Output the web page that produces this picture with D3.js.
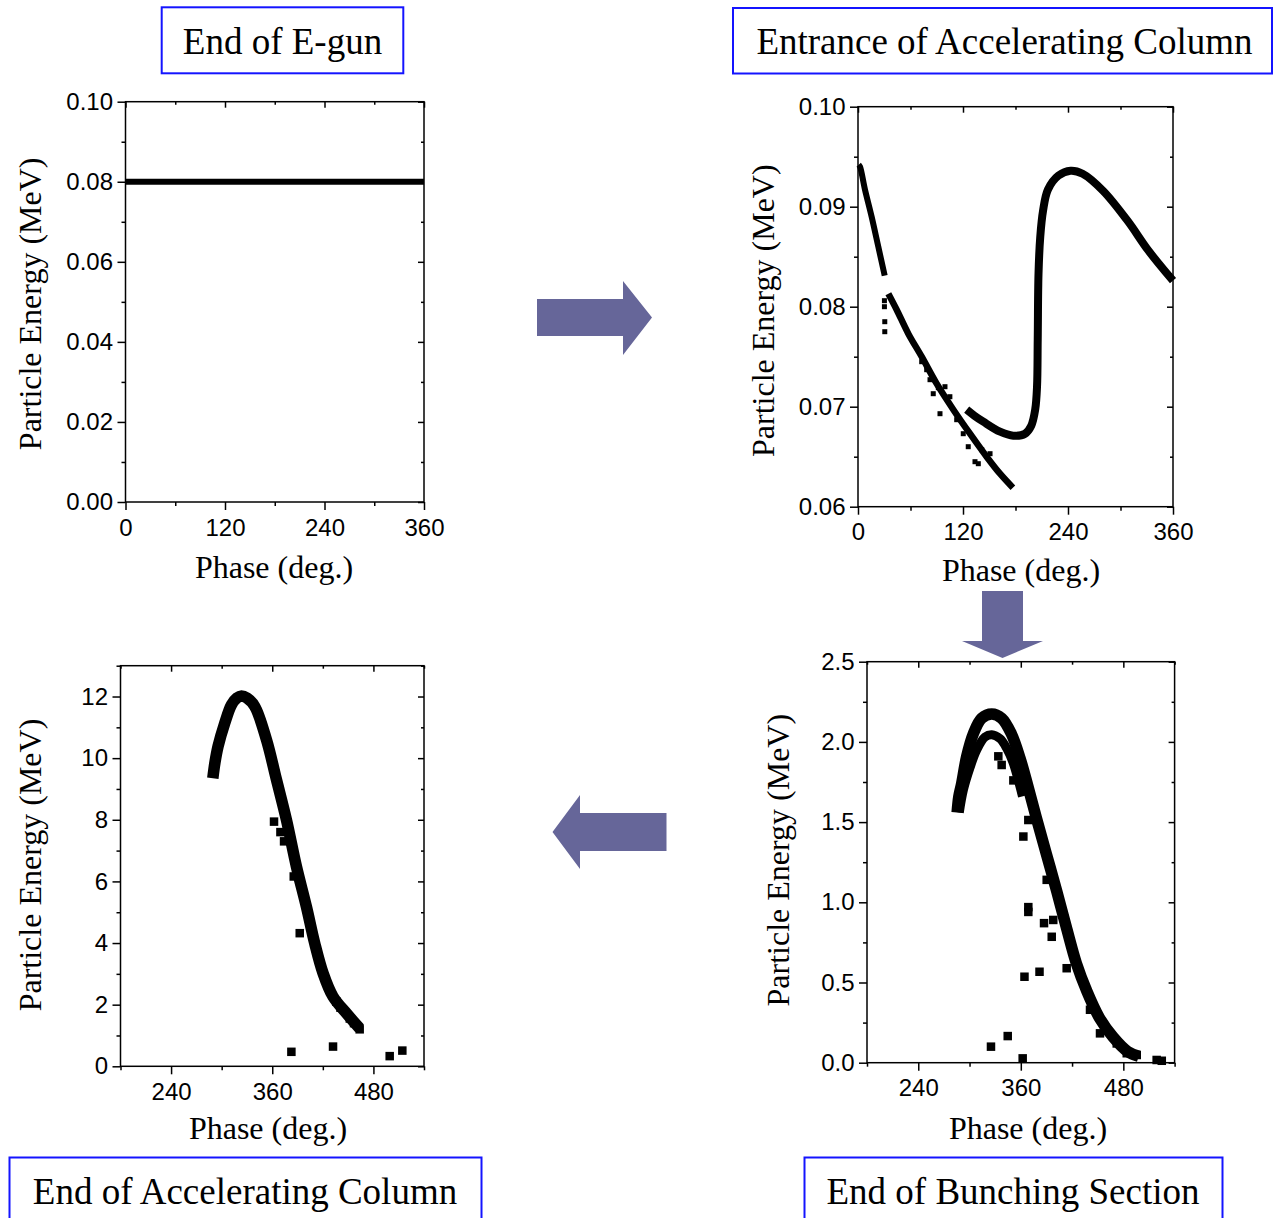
<!DOCTYPE html>
<html>
<head>
<meta charset="utf-8">
<script src="https://cdn.jsdelivr.net/npm/d3@7"></script>
<style>
  html, body { margin: 0; padding: 0; background: #fff; }
  svg { display: block; }
</style>
</head>
<body>
<svg id="fig" width="1274" height="1218"></svg>
<script>
// ---------- Longitudinal phase space of the bunch at four stations ----------
// Each pair is [phase (deg.), particle energy (MeV)].

// Station 1: end of the electron gun (mono-energetic, uniform in phase)
const egunBeam = [[0, 0.08], [360, 0.08]];

// Station 2: entrance of the accelerating column
const entranceHeadBand = [[0.8, 0.0942], [2.3, 0.0940], [8, 0.0917], [15.6, 0.0890], [23.2, 0.0860], [30.5, 0.0831]];
const entranceBodyBand = [[34.7, 0.0813], [44.2, 0.0797], [57.5, 0.0773], [72.8, 0.0750], [89.9, 0.0723],
  [109, 0.0697], [128, 0.0673], [147, 0.0650], [162.3, 0.0633], [177, 0.0619]];
const entranceTailCurve = [[124.2, 0.0697], [133, 0.0691], [143.2, 0.0685], [162.3, 0.0675], [177.5, 0.0671],
  [190.9, 0.0673], [198, 0.0681], [202.5, 0.0697], [204.6, 0.0720], [205.4, 0.0767], [206.3, 0.0833],
  [208.3, 0.0870], [211.5, 0.0896], [217, 0.0917], [229, 0.0931], [243, 0.0936], [256.7, 0.0933],
  [280, 0.0916], [308, 0.0886], [332, 0.0856], [360, 0.0826]];
const entranceStray = [[30.2, 0.0806], [30.2, 0.0800], [30.6, 0.0785], [30.6, 0.0775], [72.8, 0.0745],
  [78.5, 0.0737], [82.3, 0.0727], [86, 0.0713], [91.8, 0.0719], [93.7, 0.0693], [99.4, 0.0720],
  [105, 0.0710], [112.8, 0.0687], [120.3, 0.0673], [126, 0.0660], [133.7, 0.0645], [137.5, 0.0643],
  [141.4, 0.0657], [150.9, 0.0653]];

// Station 3: end of the bunching section
const bunchOuterArc = [[285.5, 1.56], [287.5, 1.66], [290.8, 1.74], [296.7, 1.91], [304.4, 2.05], [314.2, 2.147],
  [326, 2.174], [337.7, 2.147], [349, 2.05], [359, 1.90], [368, 1.73], [378, 1.53], [390, 1.30],
  [402, 1.07], [414, 0.83], [425, 0.62], [437, 0.45], [452, 0.28], [468, 0.16], [485, 0.07], [498, 0.04]];
const bunchInnerArc = [[288, 1.56], [292.8, 1.70], [300.6, 1.84], [308.4, 1.95], [318.1, 2.03], [326, 2.045],
  [335.7, 2.02], [343.5, 1.96], [351.3, 1.866], [357.1, 1.76], [362, 1.66]];
const bunchStray = [[333.7, 1.91], [337.6, 1.856], [351.3, 1.76], [363, 1.41], [368.8, 0.97], [368.8, 0.94],
  [387.2, 0.87], [396.2, 0.785], [398, 0.89], [364.3, 0.536], [381.9, 0.567], [413.7, 0.589],
  [325.1, 0.10], [344.7, 0.166], [362.2, 0.027], [519, 0.017], [525, 0.012], [495.7, 0.048],
  [484, 0.059], [390.3, 1.14], [368.8, 1.513], [441, 0.33], [452.7, 0.183], [472.3, 0.12]];

// Station 4: end of the accelerating column
const accelBand = [[289.5, 9.35], [292, 9.85], [295.7, 10.38], [303.7, 11.14], [311.6, 11.73], [318, 11.95],
  [323.5, 12.02], [330, 11.95], [339.2, 11.68], [353.1, 10.6], [365, 9.30], [376.8, 8.0], [388.7, 6.48],
  [400.5, 5.18], [410.4, 3.99], [420.3, 3.02], [432.1, 2.26], [448, 1.72], [463.7, 1.23]];
const accelStray = [[362.1, 7.94], [369.7, 7.6], [374, 7.3], [385.5, 6.16], [392.6, 4.32], [382.7, 0.47],
  [432.1, 0.64], [499.3, 0.33], [514.3, 0.51], [436, 2.1], [441, 1.9], [452, 1.55], [457, 1.4], [463.7, 1.2]];

// Axis ticks
const phaseTicksFull = [0, 120, 240, 360];
const phaseMinorFull = [60, 180, 300];
const phaseTicksShift = [240, 360, 480];
const phaseMinorShift = [180, 300, 420, 540];
const egunEnergyTicks = [0, 0.02, 0.04, 0.06, 0.08, 0.10];
const egunEnergyMinor = [0.01, 0.03, 0.05, 0.07, 0.09];
const entranceEnergyTicks = [0.06, 0.07, 0.08, 0.09, 0.10];
const entranceEnergyMinor = [0.065, 0.075, 0.085, 0.095];
const bunchEnergyTicks = [0, 0.5, 1.0, 1.5, 2.0, 2.5];
const bunchEnergyMinor = [0.25, 0.75, 1.25, 1.75, 2.25];
const accelEnergyTicks = [0, 2, 4, 6, 8, 10, 12];
const accelEnergyMinor = [1, 3, 5, 7, 9, 11, 13];

// Station titles
const stationTitles = ["End of E-gun", "Entrance of Accelerating Column", "End of Bunching Section", "End of Accelerating Column"];

// ---------- drawing ----------
const svg = d3.select("#fig");
const SERIF = "'Liberation Serif', 'Times New Roman', serif";
const SANS = "'Liberation Sans', Arial, sans-serif";

function drawPanel(cfg) {
  const x = d3.scaleLinear().domain(cfg.xDomain).range([cfg.left, cfg.right]);
  const y = d3.scaleLinear().domain(cfg.yDomain).range([cfg.bottom, cfg.top]);
  const g = svg.append("g");

  // dense particle bands drawn as thick smooth strokes
  const line = d3.line().x(d => x(d[0])).y(d => y(d[1])).curve(d3.curveCatmullRom.alpha(0.5));
  cfg.bands.forEach(b => {
    g.append("path").datum(b.data)
      .attr("d", line)
      .attr("fill", "none")
      .attr("stroke", "#000")
      .attr("stroke-width", b.width)
      .attr("stroke-linejoin", "round")
      .attr("stroke-linecap", b.cap || "butt");
  });

  // isolated macro-particles as square markers
  const s = cfg.markerSize;
  g.append("g").selectAll("rect").data(cfg.points).join("rect")
    .attr("x", d => x(d[0]) - s / 2)
    .attr("y", d => y(d[1]) - s / 2)
    .attr("width", s).attr("height", s)
    .attr("fill", "#000");

  // frame
  g.append("rect")
    .attr("x", cfg.left).attr("y", cfg.top)
    .attr("width", cfg.right - cfg.left).attr("height", cfg.bottom - cfg.top)
    .attr("fill", "none").attr("stroke", "#000").attr("stroke-width", 1.5);

  const styleAxis = sel => {
    sel.select(".domain").remove();
    sel.selectAll("line").attr("stroke", "#000").attr("stroke-width", 1.5);
    sel.selectAll("text").attr("font-family", SANS).attr("font-size", 24).attr("fill", "#000");
  };

  // bottom
  g.append("g").attr("transform", `translate(0,${cfg.bottom})`)
    .call(d3.axisBottom(x).tickValues(cfg.xTicks).tickSize(8).tickPadding(8.5).tickFormat(d3.format("d")))
    .call(styleAxis);
  g.append("g").attr("transform", `translate(0,${cfg.bottom})`)
    .call(d3.axisBottom(x).tickValues(cfg.xMinor).tickSize(4).tickFormat(""))
    .call(styleAxis);
  // top (inward)
  g.append("g").attr("transform", `translate(0,${cfg.top})`)
    .call(d3.axisTop(x).tickValues(cfg.xTicks).tickSize(-6).tickFormat(""))
    .call(styleAxis);
  g.append("g").attr("transform", `translate(0,${cfg.top})`)
    .call(d3.axisTop(x).tickValues(cfg.xMinor).tickSize(-3).tickFormat(""))
    .call(styleAxis);
  // left
  g.append("g").attr("transform", `translate(${cfg.left},0)`)
    .call(d3.axisLeft(y).tickValues(cfg.yTicks).tickSize(8).tickPadding(4.5).tickFormat(d3.format(cfg.yFormat)))
    .call(styleAxis);
  g.append("g").attr("transform", `translate(${cfg.left},0)`)
    .call(d3.axisLeft(y).tickValues(cfg.yMinor).tickSize(4).tickFormat(""))
    .call(styleAxis);
  // right (inward)
  g.append("g").attr("transform", `translate(${cfg.right},0)`)
    .call(d3.axisRight(y).tickValues(cfg.yTicks).tickSize(-6).tickFormat(""))
    .call(styleAxis);
  g.append("g").attr("transform", `translate(${cfg.right},0)`)
    .call(d3.axisRight(y).tickValues(cfg.yMinor).tickSize(-3).tickFormat(""))
    .call(styleAxis);

  // axis titles
  g.append("text")
    .attr("transform", `translate(${cfg.yTitleX},${(cfg.top + cfg.bottom) / 2 + cfg.yTitleDy}) rotate(-90)`)
    .attr("text-anchor", "middle").attr("dominant-baseline", "central")
    .attr("font-family", SERIF).attr("font-size", 32).attr("fill", "#000")
    .text("Particle Energy (MeV)");
  g.append("text")
    .attr("x", cfg.xTitleX).attr("y", cfg.xTitleY)
    .attr("text-anchor", "middle")
    .attr("font-family", SERIF).attr("font-size", 32).attr("fill", "#000")
    .text("Phase (deg.)");
}

drawPanel({
  left: 125.5, right: 424, top: 101.7, bottom: 502,
  xDomain: [0, 360], yDomain: [0, 0.10],
  xTicks: phaseTicksFull, xMinor: phaseMinorFull,
  yTicks: egunEnergyTicks, yMinor: egunEnergyMinor, yFormat: ".2f",
  bands: [{ data: egunBeam, width: 6 }],
  points: [], markerSize: 5,
  yTitleX: 30, yTitleDy: 2, xTitleX: 274, xTitleY: 578
});

drawPanel({
  left: 858, right: 1173, top: 106.7, bottom: 506.7,
  xDomain: [0, 360], yDomain: [0.06, 0.10],
  xTicks: phaseTicksFull, xMinor: phaseMinorFull,
  yTicks: entranceEnergyTicks, yMinor: entranceEnergyMinor, yFormat: ".2f",
  bands: [
    { data: entranceHeadBand, width: 6 },
    { data: entranceBodyBand, width: 6.5 },
    { data: entranceTailCurve, width: 8 }
  ],
  points: entranceStray, markerSize: 5,
  yTitleX: 763, yTitleDy: 4, xTitleX: 1021, xTitleY: 581
});

drawPanel({
  left: 867, right: 1174.6, top: 661.7, bottom: 1062.7,
  xDomain: [180, 540], yDomain: [0, 2.5],
  xTicks: phaseTicksShift, xMinor: phaseMinorShift,
  yTicks: bunchEnergyTicks, yMinor: bunchEnergyMinor, yFormat: ".1f",
  bands: [
    { data: bunchOuterArc, width: 11.5 },
    { data: bunchInnerArc, width: 9 }
  ],
  points: bunchStray, markerSize: 8.5,
  yTitleX: 778, yTitleDy: -2, xTitleX: 1028, xTitleY: 1139
});

drawPanel({
  left: 120.5, right: 424, top: 665.7, bottom: 1066.3,
  xDomain: [180, 540], yDomain: [0, 13],
  xTicks: phaseTicksShift, xMinor: phaseMinorShift,
  yTicks: accelEnergyTicks, yMinor: accelEnergyMinor, yFormat: "d",
  bands: [{ data: accelBand, width: 11.5 }],
  points: accelStray, markerSize: 8.5,
  yTitleX: 30, yTitleDy: -1, xTitleX: 268, xTitleY: 1139
});

// ---------- station title boxes ----------
const boxes = [
  { x: 161.7, y: 7.3, w: 241.6, h: 66, tx: 282.5, ty: 54, label: stationTitles[0] },
  { x: 733, y: 8, w: 539, h: 65.5, tx: 1004.5, ty: 54, label: stationTitles[1] },
  { x: 804.5, y: 1157.5, w: 418, h: 70, tx: 1013, ty: 1204, label: stationTitles[2] },
  { x: 9.5, y: 1157.5, w: 472, h: 70, tx: 245, ty: 1204, label: stationTitles[3] }
];
const bg = svg.append("g");
boxes.forEach(b => {
  bg.append("rect").attr("x", b.x).attr("y", b.y).attr("width", b.w).attr("height", b.h)
    .attr("fill", "#fff").attr("stroke", "#1414ff").attr("stroke-width", 2);
  bg.append("text").attr("x", b.tx).attr("y", b.ty).attr("text-anchor", "middle")
    .attr("font-family", SERIF).attr("font-size", 37).attr("fill", "#000").text(b.label);
});

// ---------- flow arrows between stations ----------
const arrowFill = "#666699";
const arrows = [
  [[537, 299], [623, 299], [623, 281], [652, 317.5], [623, 355], [623, 336], [537, 336]],
  [[982, 591], [1023, 591], [1023, 641], [1043, 641], [1002.5, 658], [962, 641], [982, 641]],
  [[666.5, 813], [580, 813], [580, 795], [552.5, 832], [580, 869], [580, 851], [666.5, 851]]
];
svg.append("g").selectAll("path").data(arrows).join("path")
  .attr("d", d => d3.line()(d) + "Z")
  .attr("fill", arrowFill);
</script>
</body>
</html>
